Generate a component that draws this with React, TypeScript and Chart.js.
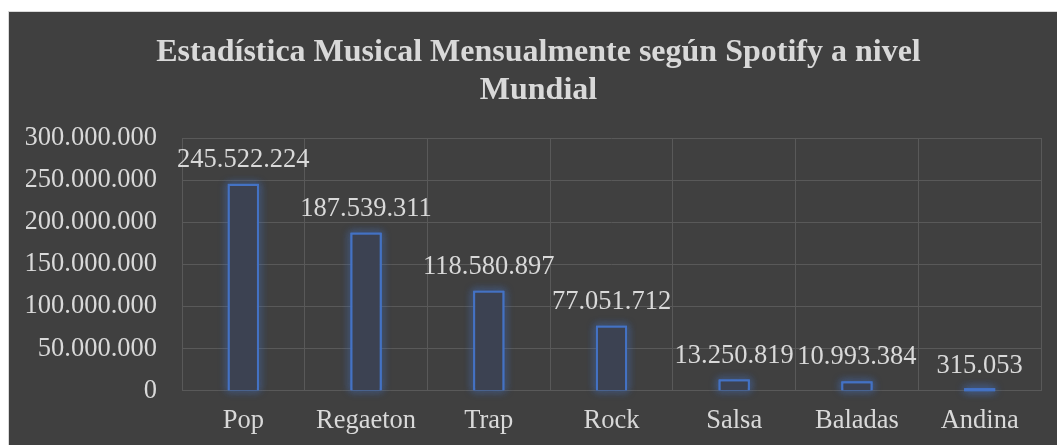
import React, { useEffect, useRef } from "react";
import { Chart, registerables } from "chart.js";

Chart.register(...registerables);

const categories = ["Pop", "Regaeton", "Trap", "Rock", "Salsa", "Baladas", "Andina"];
const listeners = [245522224, 187539311, 118580897, 77051712, 13250819, 10993384, 315053];
const titleLines = ["Estadística Musical Mensualmente según Spotify a nivel", "Mundial"];

const FONT = "'Liberation Serif', 'Times New Roman', serif";
const TEXT = "#d9d9d9";
const BLUE = "#4472C4";
const FS = 26.5;

const fmt = (n: number) => Math.round(n).toString().replace(/\B(?=(\d{3})+(?!\d))/g, ".");

// nudge the title block slightly right, like the original
const titleShift = {
  id: "titleShift",
  afterLayout(chart: any) {
    const tb = chart.titleBlock;
    if (tb) {
      tb.left += 5;
      tb.right += 5;
    }
  },
};

// soft blue glow around each bar outline, positioned from the bar elements
const glowPlugin = {
  id: "glow",
  beforeDatasetsDraw(chart: any) {
    const ctx = chart.ctx;
    const meta = chart.getDatasetMeta(0);
    ctx.save();
    ctx.strokeStyle = BLUE;
    ctx.lineWidth = 2;
    ctx.shadowColor = "rgba(68,114,196,0.85)";
    ctx.shadowBlur = 9;
    for (let pass = 0; pass < 2; pass++) {
      meta.data.forEach((bar: any) => {
        const p = bar.getProps(["x", "y", "base", "width"], true);
        const left = p.x - p.width / 2;
        const top = Math.min(p.y, p.base);
        const h = Math.max(Math.abs(p.base - p.y), 2);
        const t = Math.abs(p.base - p.y) < 2 ? p.base - 2 : top;
        ctx.strokeRect(left + 1, t + 1, p.width - 2, h - 2 > 0 ? h - 2 : 1);
      });
    }
    ctx.restore();
  },
};

const labelPlugin = {
  id: "valueLabels",
  afterDatasetsDraw(chart: any) {
    const ctx = chart.ctx;
    const meta = chart.getDatasetMeta(0);
    const data = chart.data.datasets[0].data as number[];
    ctx.save();
    ctx.font = `${FS}px ${FONT}`;
    ctx.fillStyle = TEXT;
    ctx.textAlign = "center";
    ctx.textBaseline = "alphabetic";
    meta.data.forEach((bar: any, i: number) => {
      ctx.fillText(fmt(data[i]), bar.x, bar.y - 17);
    });
    ctx.restore();
  },
};

export default function App() {
  const ref = useRef<HTMLCanvasElement | null>(null);

  useEffect(() => {
    if (!ref.current) return;
    const chart = new Chart(ref.current, {
      type: "bar",
      data: {
        labels: categories,
        datasets: [
          {
            data: listeners,
            backgroundColor: "rgba(60,66,82,1)",
            borderColor: BLUE,
            borderWidth: 2,
            barPercentage: 0.253,
            categoryPercentage: 1,
          },
        ],
      },
      options: {
        responsive: false,
        animation: false,
        maintainAspectRatio: false,
        layout: { padding: { left: 17, right: 16, top: 0, bottom: 0 } },
        plugins: {
          legend: { display: false },
          tooltip: { enabled: false },
          title: {
            display: true,
            text: titleLines,
            color: TEXT,
            font: { family: FONT, size: 32, weight: "bold", lineHeight: 1.175 },
            padding: { top: 22, bottom: 28.8 },
          },
        },
        scales: {
          x: {
            grid: { color: "#595959", lineWidth: 1, drawTicks: false },
            border: { color: "#595959" },
            ticks: { color: TEXT, font: { family: FONT, size: FS }, padding: 14, maxRotation: 0 },
            afterFit: (s: any) => {
              s.height = 54.3;
            },
          },
          y: {
            min: 0,
            max: 300000000,
            grid: { color: "#595959", lineWidth: 1, drawTicks: false },
            border: { display: false },
            ticks: {
              stepSize: 50000000,
              color: TEXT,
              font: { family: FONT, size: FS },
              padding: 25,
              callback: (v: any) => fmt(Number(v)),
            },
            afterFit: (s: any) => {
              s.width = 156;
            },
          },
        },
      },
      plugins: [titleShift, glowPlugin, labelPlugin],
    });
    return () => chart.destroy();
  }, []);

  return (
    <div
      style={{
        position: "absolute",
        left: 8,
        top: 11,
        width: 1049,
        height: 434,
        background: "#404040",
        borderTop: "1px solid #d9d9d9",
        borderLeft: "1px solid #d9d9d9",
        boxSizing: "border-box",
        overflow: "hidden",
      }}
    >
      <canvas ref={ref} width={1048} height={433} style={{ display: "block" }} />
    </div>
  );
}
